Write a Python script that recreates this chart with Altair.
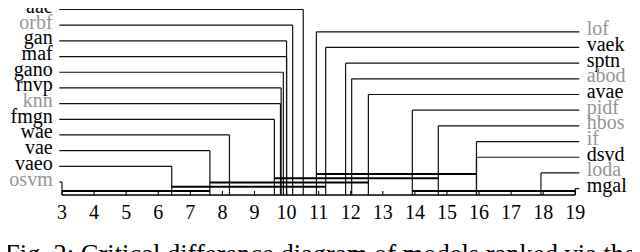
import altair as alt
import pandas as pd

# ---------------- data ----------------
left_models = ["aae", "orbf", "gan", "maf", "gano", "rnvp", "knn", "fmgn", "wae", "vae", "vaeo", "osvm"]
left_ranks = [10.52, 10.19, 10.00, 10.00, 9.90, 9.83, 9.81, 9.62, 8.22, 7.61, 6.42, 3.00]
left_gray = [False, True, False, False, False, False, True, False, False, False, False, True]

right_models = ["lof", "vaek", "sptn", "abod", "avae", "pidf", "hbos", "if", "dsvd", "loda", "mgal"]
right_ranks = [10.93, 11.22, 11.84, 12.03, 12.55, 13.92, 14.73, 15.92, 15.92, 17.93, 19.00]
right_gray = [True, False, False, True, False, True, True, True, False, True, False]

clique_lo = [3.00, 6.42, 7.61, 9.62, 10.93, 13.92]
clique_hi = [7.61, 11.22, 12.55, 14.73, 15.92, 19.00]
clique_level = [0, 1, 2, 3, 4, 0]

tick_values = list(range(3, 20))
caption = "Fig. 2: Critical difference diagram of models ranked via the"

# ---------------- layout constants ----------------
W, H = 624, 244
FONT = "Liberation Serif"
FS = 20
BLACK = "#000000"
GRAY = "#959595"

AXIS_ROW = 11.83
LEFT_EDGE = 2.916     # where left connector lines start (rank units)
RIGHT_EDGE = 19.125   # where right connector lines end
LEFT_TEXT = 2.71
RIGHT_TEXT = 19.356
RIGHT_OFFSET = 1.42

xs = alt.Scale(domain=[1.3167, 20.768], nice=False, zero=False)
ys = alt.Scale(domain=[-0.097, 15.464], reverse=True, nice=False, zero=False)

left = pd.DataFrame({
    "model": left_models,
    "rank": left_ranks,
    "row": list(range(len(left_models))),
    "edge": LEFT_EDGE,
    "tx": LEFT_TEXT,
    "axis": AXIS_ROW,
    "grp": ["gray" if g else "black" for g in left_gray],
})
right = pd.DataFrame({
    "model": right_models,
    "rank": right_ranks,
    "row": [RIGHT_OFFSET + i for i in range(len(right_models))],
    "edge": RIGHT_EDGE,
    "tx": RIGHT_TEXT,
    "axis": AXIS_ROW,
    "grp": ["gray" if g else "black" for g in right_gray],
})
models = pd.concat([left, right], ignore_index=True)

cliques = pd.DataFrame({
    "lo": clique_lo,
    "hi": clique_hi,
    "row": [11.574 - 0.271 * l for l in clique_level],
})

ticks = pd.DataFrame({
    "t": tick_values,
    "top": 11.574,
    "axis": AXIS_ROW,
    "lab": [str(t) for t in tick_values],
    "labrow": 13.36,
})

axis_df = pd.DataFrame({"a": [tick_values[0]], "b": [tick_values[-1]], "row": [AXIS_ROW]})
cap_df = pd.DataFrame({"x": [1.223], "row": [16.17], "text": [caption]})

color_scale = alt.Scale(domain=["black", "gray"], range=[BLACK, GRAY])

hlines = alt.Chart(models).mark_rule(color="#111111", strokeWidth=1.2).encode(
    x=alt.X("edge:Q", scale=xs, axis=None),
    x2="rank:Q",
    y=alt.Y("row:Q", scale=ys, axis=None),
)
vlines = alt.Chart(models).mark_rule(color="#111111", strokeWidth=1.2).encode(
    x=alt.X("rank:Q", scale=xs, axis=None),
    y=alt.Y("row:Q", scale=ys, axis=None),
    y2="axis:Q",
)
ltext = alt.Chart(left).mark_text(align="right", baseline="alphabetic", dy=3.5,
                                   font=FONT, fontSize=FS).encode(
    x=alt.X("tx:Q", scale=xs, axis=None),
    y=alt.Y("row:Q", scale=ys, axis=None),
    text="model:N",
    color=alt.Color("grp:N", scale=color_scale, legend=None),
)
rtext = alt.Chart(right).mark_text(align="left", baseline="alphabetic", dy=3.5,
                                    font=FONT, fontSize=FS).encode(
    x=alt.X("tx:Q", scale=xs, axis=None),
    y=alt.Y("row:Q", scale=ys, axis=None),
    text="model:N",
    color=alt.Color("grp:N", scale=color_scale, legend=None),
)
bars = alt.Chart(cliques).mark_rule(color=BLACK, strokeWidth=2.2).encode(
    x=alt.X("lo:Q", scale=xs, axis=None),
    x2="hi:Q",
    y=alt.Y("row:Q", scale=ys, axis=None),
)
axis_line = alt.Chart(axis_df).mark_rule(color=BLACK, strokeWidth=1.5).encode(
    x=alt.X("a:Q", scale=xs, axis=None),
    x2="b:Q",
    y=alt.Y("row:Q", scale=ys, axis=None),
)
tick_marks = alt.Chart(ticks).mark_rule(color=BLACK, strokeWidth=1.1).encode(
    x=alt.X("t:Q", scale=xs, axis=None),
    y=alt.Y("top:Q", scale=ys, axis=None),
    y2="axis:Q",
)
tick_labels = alt.Chart(ticks).mark_text(align="center", baseline="alphabetic",
                                         font=FONT, fontSize=FS, color=BLACK).encode(
    x=alt.X("t:Q", scale=xs, axis=None),
    y=alt.Y("labrow:Q", scale=ys, axis=None),
    text="lab:N",
)
cap = alt.Chart(cap_df).mark_text(align="left", baseline="alphabetic",
                                  font=FONT, fontSize=26.5, color=BLACK).encode(
    x=alt.X("x:Q", scale=xs, axis=None),
    y=alt.Y("row:Q", scale=ys, axis=None),
    text="text:N",
)

chart = alt.layer(hlines, vlines, bars, axis_line, tick_marks, ltext, rtext,
                  tick_labels, cap).properties(
    width=W, height=H, autosize=alt.AutoSizeParams(type="none"), padding=0,
).configure_view(stroke=None)

chart.save("out.html", embed_options={"renderer": "svg", "actions": False})
